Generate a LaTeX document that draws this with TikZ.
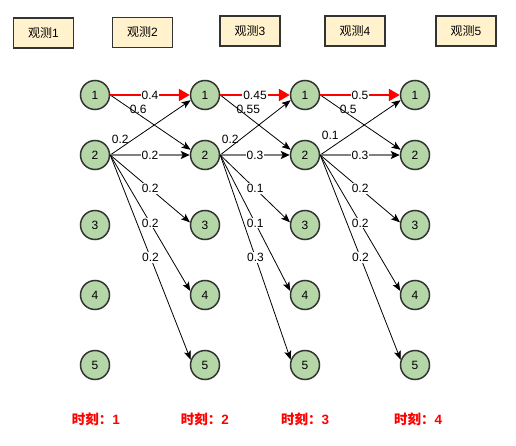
\documentclass[tikz,border=0pt]{standalone}
\usepackage{fontspec}
\setmainfont{Liberation Sans}
\newfontfamily\cjk{Noto Sans CJK SC}
\usetikzlibrary{arrows.meta}
\definecolor{nodefill}{HTML}{B5D6A7}
\definecolor{nodedraw}{HTML}{333333}
\definecolor{boxfill}{HTML}{FFF2CC}
\definecolor{glin}{HTML}{808080}
\begin{document}
\begin{tikzpicture}[x=1pt,y=-1pt,
  state/.style={circle,draw=nodedraw,line width=1.5pt,fill=nodefill,minimum size=29pt,inner sep=0pt,font=\fontsize{12}{14}\selectfont},
  obs/.style={draw=nodedraw,line width=1.8pt,fill=boxfill,minimum width=60pt,minimum height=30pt,inner sep=0pt,font=\fontsize{12}{14}\selectfont},
  tlabel/.style={text=red,inner sep=0pt,font=\fontsize{13.5}{16}\selectfont\bfseries},
  lab/.style={fill=white,text=black,inner sep=1pt,font=\fontsize{12}{14}\selectfont},
  labfree/.style={inner sep=0pt,text=black,font=\fontsize{12}{14}\selectfont},
  edge/.style={-{Stealth[length=9pt,width=7pt,inset=2pt]},line width=0.8pt},
  redge/.style={red,line width=2.5pt,-{Triangle[length=11pt,width=12pt]}},
  gedge/.style={glin,line width=2pt,-{Stealth[length=9pt,width=8pt,inset=2pt,black]}}
]
\useasboundingbox (0,0) rectangle (516,446);
% observation boxes
\node[obs] (o1) at (43.5,33) {{\cjk 观测}1};
\node[obs] (o2) at (142.5,32.5) {{\cjk 观测}2};
\node[obs] (o3) at (250,31) {{\cjk 观测}3};
\node[obs] (o4) at (355,31) {{\cjk 观测}4};
\node[obs] (o5) at (466,31) {{\cjk 观测}5};
% states
\foreach \c/\x in {1/95,2/205,3/305,4/415}
  \foreach \r/\y in {1/95,2/155,3/225,4/295,5/365}
    \node[state] (n\c\r) at (\x,\y) {\r};
% transitions
\foreach \a/\b/\pa/\pb/\pc/\pd/\pe/\pf/\pg/\cy in {%
  1/2/0.4/0.6/0.2/0.2/0.2/0.2/0.2/-15.5,
  2/3/0.45/0.55/0.2/0.3/0.1/0.1/0.3/-15.5,
  3/4/0.5/0.5/0.1/0.3/0.2/0.2/0.2/-19.5}{
  \draw[edge] (n\a1.east) -- (n\b2.160);
  \draw[edge] (n\a2.east) -- (n\b1.200);
  \draw[redge] (n\a1.east) -- node[lab]{\pa} (n\b1.west);
  \draw[gedge] (n\a2.east) -- node[lab]{\pd} (n\b2.west);
  \draw[edge] (n\a2.east) -- node[lab]{\pe} (n\b3.170);
  \draw[edge] (n\a2.east) -- node[lab]{\pf} (n\b4.165);
  \draw[edge] (n\a2.east) -- node[lab]{\pg} (n\b5.160);
  \node[labfree] (x\a) at ([shift={(28,14.5)}]n\a1.east) {\pb};
  \node[labfree] (y\a) at ([shift={(10,\cy)}]n\a2.east) {\pc};
}
% time labels
\node[tlabel] (t1) at (96,419) {{\cjk 时刻：}1};
\node[tlabel] (t2) at (205,419) {{\cjk 时刻：}2};
\node[tlabel] (t3) at (305,419) {{\cjk 时刻：}3};
\node[tlabel] (t4) at (418,419) {{\cjk 时刻：}4};
\end{tikzpicture}
\end{document}
